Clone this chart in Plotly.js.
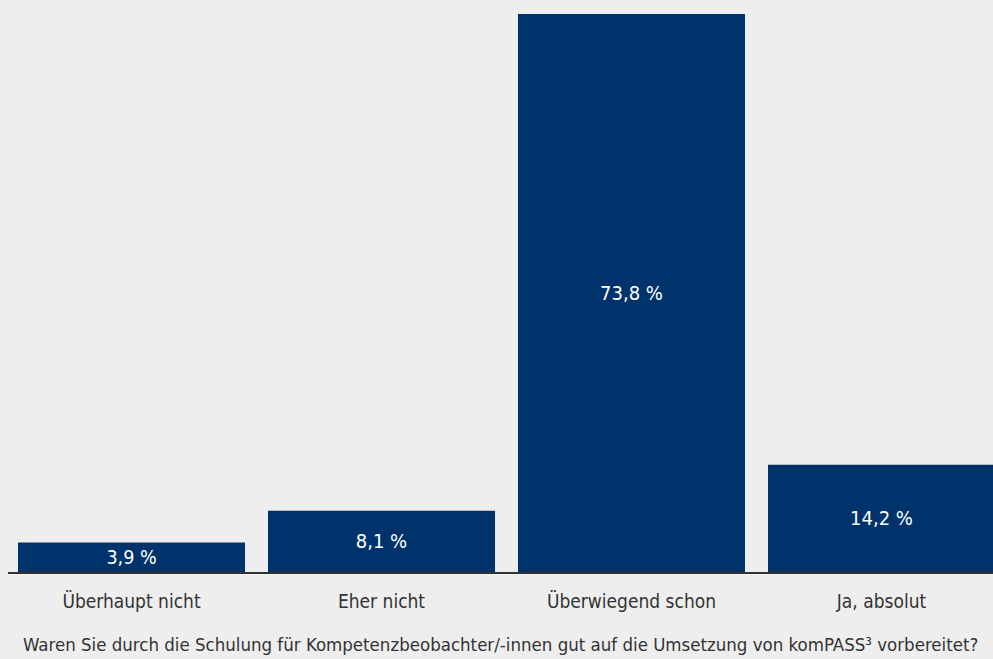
<!DOCTYPE html>
<html>
<head>
<meta charset="utf-8">
<script src="https://cdn.plot.ly/plotly-3.0.1.min.js"></script>
<style>html,body{margin:0;padding:0;background:#eeeeee;}#chart{width:993px;height:659px;}</style>
</head>
<body>
<div id="chart"></div>
<script>
const categories = ["Überhaupt nicht", "Eher nicht", "Überwiegend schon", "Ja, absolut"];
const values = [3.9, 8.1, 73.8, 14.2];
const valueLabels = ["3,9 %", "8,1 %", "73,8 %", "14,2 %"];
const axisTitle = "Waren Sie durch die Schulung für Kompetenzbeobachter/-innen gut auf die Umsetzung von komPASS³ vorbereitet?";

const FONT = "'DejaVu Sans Condensed', 'Liberation Sans Narrow', 'Roboto', sans-serif";

const trace = {
  type: "bar",
  x: categories.map((c, i) => i),
  y: values,
  text: valueLabels,
  textposition: "inside",
  insidetextanchor: "middle",
  textangle: 0,
  textfont: {family: FONT, size: 20, color: "#ffffff"},
  marker: {color: "#00336b", line: {width: 0}},
  hoverinfo: "skip",
  cliponaxis: false
};

const layout = {
  width: 993,
  height: 659,
  margin: {l: 8, r: 0, t: 0, b: 87, pad: 0},
  paper_bgcolor: "#eeeeee",
  plot_bgcolor: "#eeeeee",
  bargap: 0.092,
  showlegend: false,
  font: {family: FONT, color: "#333333"},
  xaxis: {
    range: [-0.494, 3.446],
    tickmode: "array",
    tickvals: categories.map((c, i) => i),
    ticktext: categories,
    tickfont: {family: FONT, size: 19, color: "#333333"},
    showline: true,
    linecolor: "#333333",
    linewidth: 2,
    showgrid: false,
    zeroline: false,
    ticks: "",
    ticklabelstandoff: 11,
    fixedrange: true
  },
  yaxis: {
    range: [0, 75.66],
    visible: false,
    showgrid: false,
    zeroline: false,
    fixedrange: true
  },
  annotations: [{
    text: axisTitle,
    xref: "paper", yref: "paper",
    x: 0.5, y: 0,
    xanchor: "center", yanchor: "middle",
    yshift: -72,
    showarrow: false,
    font: {family: FONT, size: 18.5, color: "#333333"}
  }]
};

Plotly.newPlot("chart", [trace], layout, {displayModeBar: false, staticPlot: true});
</script>
</body>
</html>
